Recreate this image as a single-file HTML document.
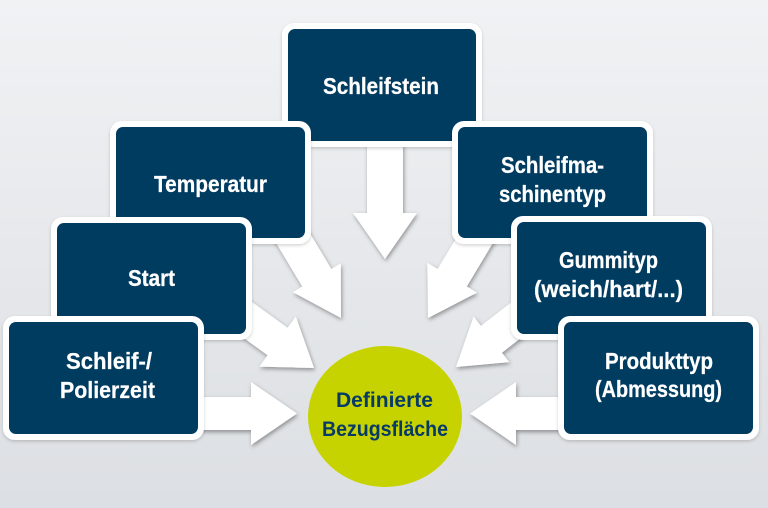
<!DOCTYPE html>
<html><head><meta charset="utf-8"><style>
html,body{margin:0;padding:0;}
body{width:768px;height:508px;overflow:hidden;}
svg{display:block;}
</style></head><body>
<svg width="768" height="508" viewBox="0 0 768 508" xmlns="http://www.w3.org/2000/svg">
<defs>
<linearGradient id="bg" x1="0" y1="0" x2="0" y2="1">
<stop offset="0" stop-color="#f1f2f4"/>
<stop offset="0.5" stop-color="#e6e8eb"/>
<stop offset="1" stop-color="#dcdfe3"/>
</linearGradient>
<filter id="ash" x="-30%" y="-30%" width="160%" height="160%">
<feDropShadow dx="1" dy="2" stdDeviation="2.2" flood-color="#000" flood-opacity="0.38"/>
</filter>
<filter id="bsh" x="-10%" y="-10%" width="120%" height="125%">
<feDropShadow dx="0" dy="1.5" stdDeviation="1.5" flood-color="#000" flood-opacity="0.18"/>
</filter>
</defs>
<rect width="768" height="508" fill="url(#bg)"/>

<g fill="#ffffff" filter="url(#ash)">
<polygon transform="translate(341,318) rotate(59)" points="-110,-17 -47,-17 -47,-28 0,0 -47,28 -47,17 -110,17"/>
<polygon transform="translate(314,368) rotate(36)" points="-100,-17 -45,-17 -45,-31 0,0 -45,31 -45,17 -100,17"/>
<polygon transform="translate(297,413.5)" points="-100,-16.5 -46,-16.5 -46,-31.5 0,0 -46,31.5 -46,16.5 -100,16.5"/>
<polygon transform="translate(385,259) rotate(90)" points="-115,-18 -46,-18 -46,-32 0,0 -46,32 -46,18 -115,18"/>
<polygon transform="translate(428,318) rotate(121)" points="-110,-17 -47,-17 -47,-29 0,0 -47,29 -47,17 -110,17"/>
<polygon transform="translate(456,367) rotate(142)" points="-100,-17 -45,-17 -45,-29 0,0 -45,29 -45,17 -100,17"/>
<polygon transform="translate(470,413.5) rotate(180)" points="-100,-16.5 -46,-16.5 -46,-31.5 0,0 -46,31.5 -46,16.5 -100,16.5"/>
</g>

<ellipse cx="385" cy="416.5" rx="77" ry="70.5" fill="#c7d300"/>
<g font-family="Liberation Sans, sans-serif" font-weight="bold" font-size="21.5" fill="#073b66" text-anchor="middle">
<text x="384.5" y="407" textLength="97" lengthAdjust="spacingAndGlyphs">Definierte</text>
<text x="385" y="436" textLength="126" lengthAdjust="spacingAndGlyphs">Bezugsfläche</text>
</g>

<g filter="url(#bsh)">
<rect x="282" y="23" width="200" height="124" rx="12" fill="#fff"/>
<rect x="288" y="29" width="188" height="112" rx="7" fill="#023a60"/>
</g>
<g filter="url(#bsh)">
<rect x="110" y="121" width="201" height="123" rx="12" fill="#fff"/>
<rect x="116" y="127" width="189" height="111" rx="7" fill="#023a60"/>
</g>
<g filter="url(#bsh)">
<rect x="452" y="121" width="201" height="123" rx="12" fill="#fff"/>
<rect x="458" y="127" width="189" height="111" rx="7" fill="#023a60"/>
</g>
<g filter="url(#bsh)">
<rect x="51" y="217" width="201" height="123" rx="12" fill="#fff"/>
<rect x="57" y="223" width="189" height="111" rx="7" fill="#023a60"/>
</g>
<g filter="url(#bsh)">
<rect x="511" y="216" width="201" height="124" rx="12" fill="#fff"/>
<rect x="517" y="222" width="189" height="112" rx="7" fill="#023a60"/>
</g>
<g filter="url(#bsh)">
<rect x="3" y="316" width="201" height="124" rx="12" fill="#fff"/>
<rect x="9" y="322" width="189" height="112" rx="7" fill="#023a60"/>
</g>
<g filter="url(#bsh)">
<rect x="558" y="316" width="201" height="124" rx="12" fill="#fff"/>
<rect x="564" y="322" width="189" height="112" rx="7" fill="#023a60"/>
</g>

<g font-family="Liberation Sans, sans-serif" font-weight="bold" font-size="23" fill="#ffffff" stroke="#ffffff" stroke-width="0.25" text-anchor="middle">
<text x="381" y="94" textLength="116" lengthAdjust="spacingAndGlyphs">Schleifstein</text>
<text x="210.5" y="192" textLength="113" lengthAdjust="spacingAndGlyphs">Temperatur</text>
<text x="552.5" y="173" textLength="103" lengthAdjust="spacingAndGlyphs">Schleifma-</text>
<text x="552.5" y="202" textLength="107" lengthAdjust="spacingAndGlyphs">schinentyp</text>
<text x="151.5" y="286" textLength="47" lengthAdjust="spacingAndGlyphs">Start</text>
<text x="608.5" y="268" textLength="99" lengthAdjust="spacingAndGlyphs">Gummityp</text>
<text x="608.5" y="297" textLength="149" lengthAdjust="spacingAndGlyphs">(weich/hart/...)</text>
<text x="109" y="369" textLength="86" lengthAdjust="spacingAndGlyphs">Schleif-/</text>
<text x="107.5" y="398" textLength="95" lengthAdjust="spacingAndGlyphs">Polierzeit</text>
<text x="659" y="369" textLength="108" lengthAdjust="spacingAndGlyphs">Produkttyp</text>
<text x="658.5" y="397" textLength="127" lengthAdjust="spacingAndGlyphs">(Abmessung)</text>
</g>
</svg>
</body></html>
